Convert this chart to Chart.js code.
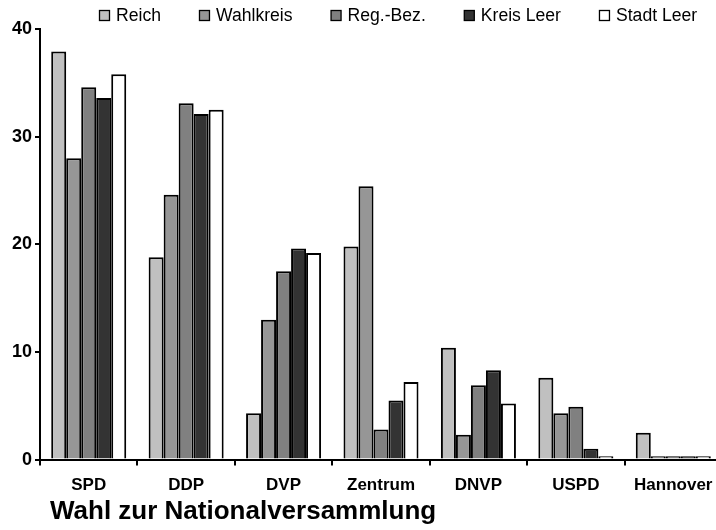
<!DOCTYPE html>
<html>
<head>
<meta charset="utf-8">
<script src="https://cdn.jsdelivr.net/npm/chart.js@4.4.0/dist/chart.umd.min.js"></script>
<style>
  html, body { margin: 0; padding: 0; background: #fff; overflow: hidden; }
  canvas { display: block; }
</style>
</head>
<body>
<canvas id="chartCanvas" width="724" height="530"></canvas>
<script>
const parties = ["SPD", "DDP", "DVP", "Zentrum", "DNVP", "USPD", "Hannover"];
const reich      = [37.9, 18.8, 4.3, 19.8, 10.4, 7.6, 2.5];
const wahlkreis  = [28.0, 24.6, 13.0, 25.4, 2.3, 4.3, 0.3];
const regBez     = [34.6, 33.1, 17.5, 2.8, 6.9, 4.9, 0.3];
const kreisLeer  = [33.6, 32.1, 19.6, 5.5, 8.3, 1.0, 0.3];
const stadtLeer  = [35.8, 32.5, 19.2, 7.2, 5.2, 0.3, 0.3];
const yTicks = [0, 10, 20, 30, 40];
const chartTitle = "Wahl zur Nationalversammlung";

const FONT = '"Liberation Sans", Arial, sans-serif';

function series(label, data, color) {
  return {
    label: label,
    data: data,
    backgroundColor: color,
    borderColor: "#000",
    borderWidth: 2,
    borderSkipped: "bottom",
    categoryPercentage: 0.77,
    barPercentage: 1.0
  };
}

// legend across the top and the caption underneath
const extras = {
  id: "extras",
  afterDraw(chart) {
    const ctx = chart.ctx;
    ctx.save();
    ctx.font = "17.6px " + FONT;
    ctx.textBaseline = "middle";
    let x = 99;
    chart.data.datasets.forEach(ds => {
      ctx.fillStyle = ds.backgroundColor;
      ctx.fillRect(x + 0.5, 10.5, 10, 10);
      ctx.strokeStyle = "#000";
      ctx.lineWidth = 1.3;
      ctx.strokeRect(x + 0.5, 10.5, 10, 10);
      ctx.fillStyle = "#000";
      ctx.fillText(ds.label, x + 17, 16);
      x += 17 + ctx.measureText(ds.label).width + 38;
    });
    ctx.font = "bold 26px " + FONT;
    ctx.textBaseline = "alphabetic";
    ctx.fillText(chartTitle, 50, 519);
    ctx.restore();
  }
};

new Chart(document.getElementById("chartCanvas").getContext("2d"), {
  type: "bar",
  data: {
    labels: parties,
    datasets: [
      series("Reich", reich, "#c0c0c0"),
      series("Wahlkreis", wahlkreis, "#969696"),
      series("Reg.-Bez.", regBez, "#808080"),
      series("Kreis Leer", kreisLeer, "#333333"),
      series("Stadt Leer", stadtLeer, "#ffffff")
    ]
  },
  options: {
    responsive: false,
    animation: false,
    layout: { padding: { top: 29, left: 0, right: 2, bottom: 24 } },
    plugins: {
      legend: { display: false },
      tooltip: { enabled: false }
    },
    scales: {
      x: {
        grid: { display: true, drawOnChartArea: false, drawTicks: true, tickLength: 6, color: "#000", lineWidth: 2 },
        border: { display: true, color: "#000", width: 2 },
        ticks: { color: "#000", font: { family: FONT, size: 17, weight: "bold" }, padding: 10, maxRotation: 0 }
      },
      y: {
        min: 0,
        max: 40,
        afterBuildTicks: scale => { scale.ticks = yTicks.map(v => ({ value: v })); },
        afterFit: scale => { scale.width = 40; },
        grid: { display: true, drawOnChartArea: false, drawTicks: true, tickLength: 5, color: "#000", lineWidth: 2 },
        border: { display: true, color: "#000", width: 2 },
        ticks: { color: "#000", font: { family: FONT, size: 18, weight: "bold" }, padding: 3 }
      }
    }
  },
  plugins: [extras]
});
</script>
</body>
</html>
